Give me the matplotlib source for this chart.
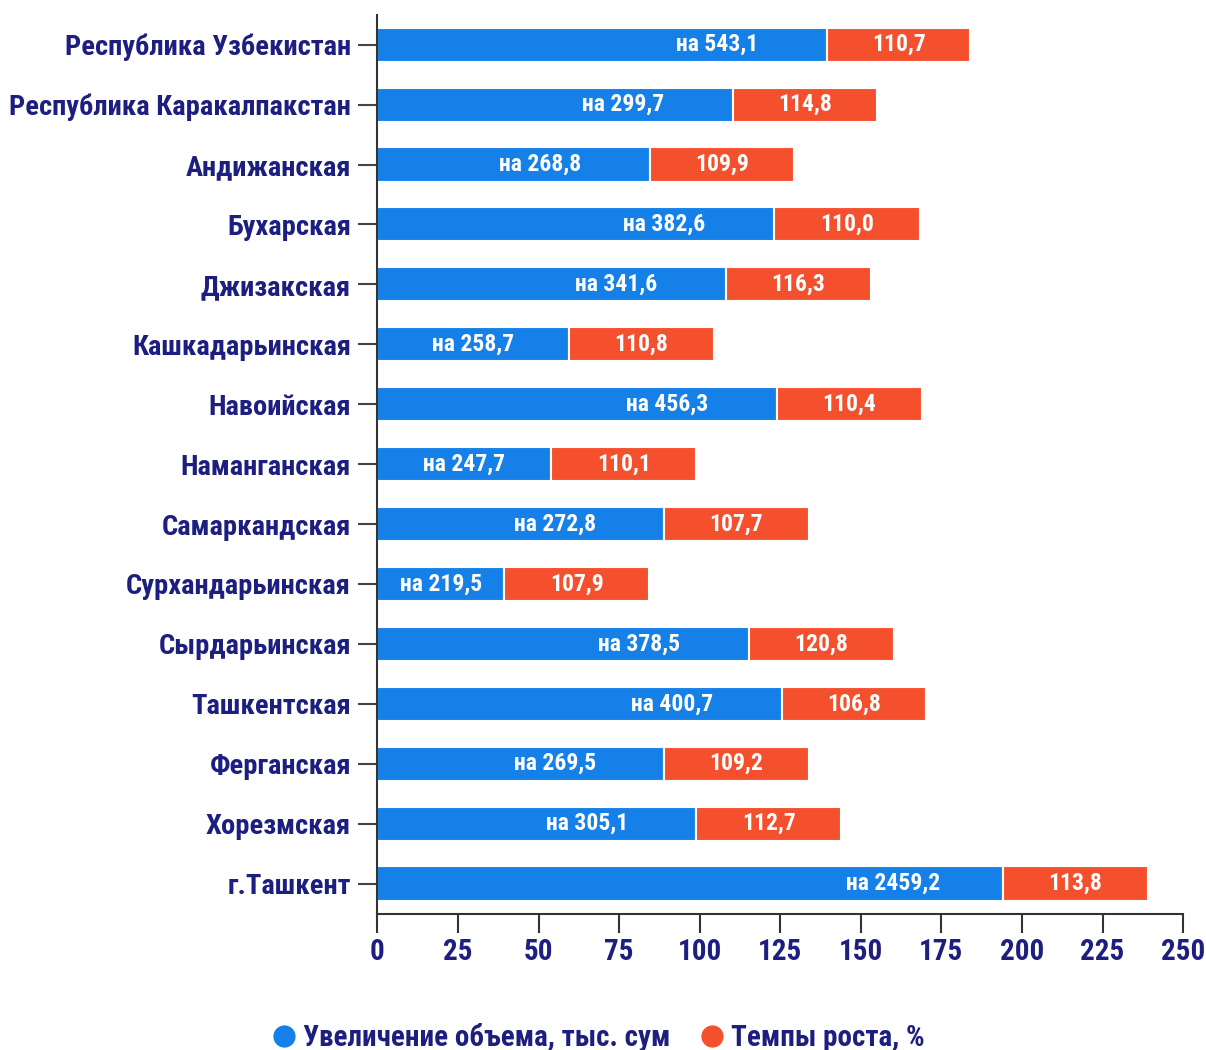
import matplotlib
matplotlib.use("Agg")
import matplotlib.pyplot as plt
from matplotlib.lines import Line2D

plt.rcParams['font.family'] = ['Roboto Condensed', 'Asap Condensed',
                               'Liberation Sans Narrow', 'DejaVu Sans']

regions = ["Республика Узбекистан", "Республика Каракалпакстан", "Андижанская",
           "Бухарская", "Джизакская", "Кашкадарьинская", "Навоийская",
           "Наманганская", "Самаркандская", "Сурхандарьинская", "Сырдарьинская",
           "Ташкентская", "Ферганская", "Хорезмская", "г.Ташкент"]
# bar lengths as drawn on the axis
blue_len = [139.5, 110.2, 84.5, 123.0, 108.0, 59.3, 124.0, 54.0, 89.0, 39.4,
            115.2, 125.5, 89.0, 99.0, 194.0]
red_len = [44.5, 44.8, 44.7, 45.3, 45.0, 45.0, 45.0, 45.0, 44.8, 44.8,
           45.0, 44.7, 44.8, 44.8, 45.0]
blue_labels = ["на 543,1", "на 299,7", "на 268,8", "на 382,6", "на 341,6", "на 258,7",
               "на 456,3", "на 247,7", "на 272,8", "на 219,5", "на 378,5", "на 400,7",
               "на 269,5", "на 305,1", "на 2459,2"]
red_labels = ["110,7", "114,8", "109,9", "110,0", "116,3", "110,8", "110,4", "110,1",
              "107,7", "107,9", "120,8", "106,8", "109,2", "112,7", "113,8"]
xticks = [0, 25, 50, 75, 100, 125, 150, 175, 200, 225, 250]

BLUE = "#1580e8"
RED = "#f5502e"
NAVY = "#1c1f7f"

fig = plt.figure(figsize=(12.06, 10.5), dpi=100)
ax = fig.add_axes([0.313, 0.13, 0.668, 0.856])

y = list(range(len(regions)))
ax.barh(y, blue_len, height=0.57, color=BLUE, edgecolor="white", linewidth=1.5)
ax.barh(y, red_len, left=blue_len, height=0.57, color=RED, edgecolor="white", linewidth=1.5)

for i in y:
    b = blue_len[i]
    bx = max(b / 2, b - 34)
    ax.text(bx, i, blue_labels[i], ha="center", va="center", color="white",
            fontsize=17, fontweight="bold")
    ax.text(b + red_len[i] / 2, i, red_labels[i], ha="center", va="center",
            color="white", fontsize=17, fontweight="bold")

ax.set_ylim(len(regions) - 0.5, -0.5)
ax.set_xlim(0, 250)
ax.set_yticks(y)
ax.set_yticklabels(regions)
ax.set_xticks(xticks)
ax.set_xticklabels([str(t) for t in xticks])

for s in ["top", "right"]:
    ax.spines[s].set_visible(False)
for s in ["left", "bottom"]:
    ax.spines[s].set_color("#333333")
    ax.spines[s].set_linewidth(1.5)

ax.tick_params(axis="y", length=14, width=1.5, color="#444444", pad=5,
               labelsize=20.5, labelcolor=NAVY)
ax.tick_params(axis="x", length=14, width=1.5, color="#333333", pad=4,
               labelsize=21, labelcolor=NAVY)
for lbl in ax.get_yticklabels() + ax.get_xticklabels():
    lbl.set_fontweight("bold")

handles = [Line2D([], [], marker="o", linestyle="", markersize=15, color=BLUE),
           Line2D([], [], marker="o", linestyle="", markersize=15, color=RED)]
leg = fig.legend(handles, ["Увеличение объема, тыс. сум", "Темпы роста, %"],
                 loc="lower center", bbox_to_anchor=(0.495, -0.027), ncol=2,
                 frameon=False, handletextpad=0.15, columnspacing=0.9,
                 handlelength=1.0, prop={"size": 21, "weight": "bold"})
for t in leg.get_texts():
    t.set_color(NAVY)

fig.savefig("out.png", dpi=100)
